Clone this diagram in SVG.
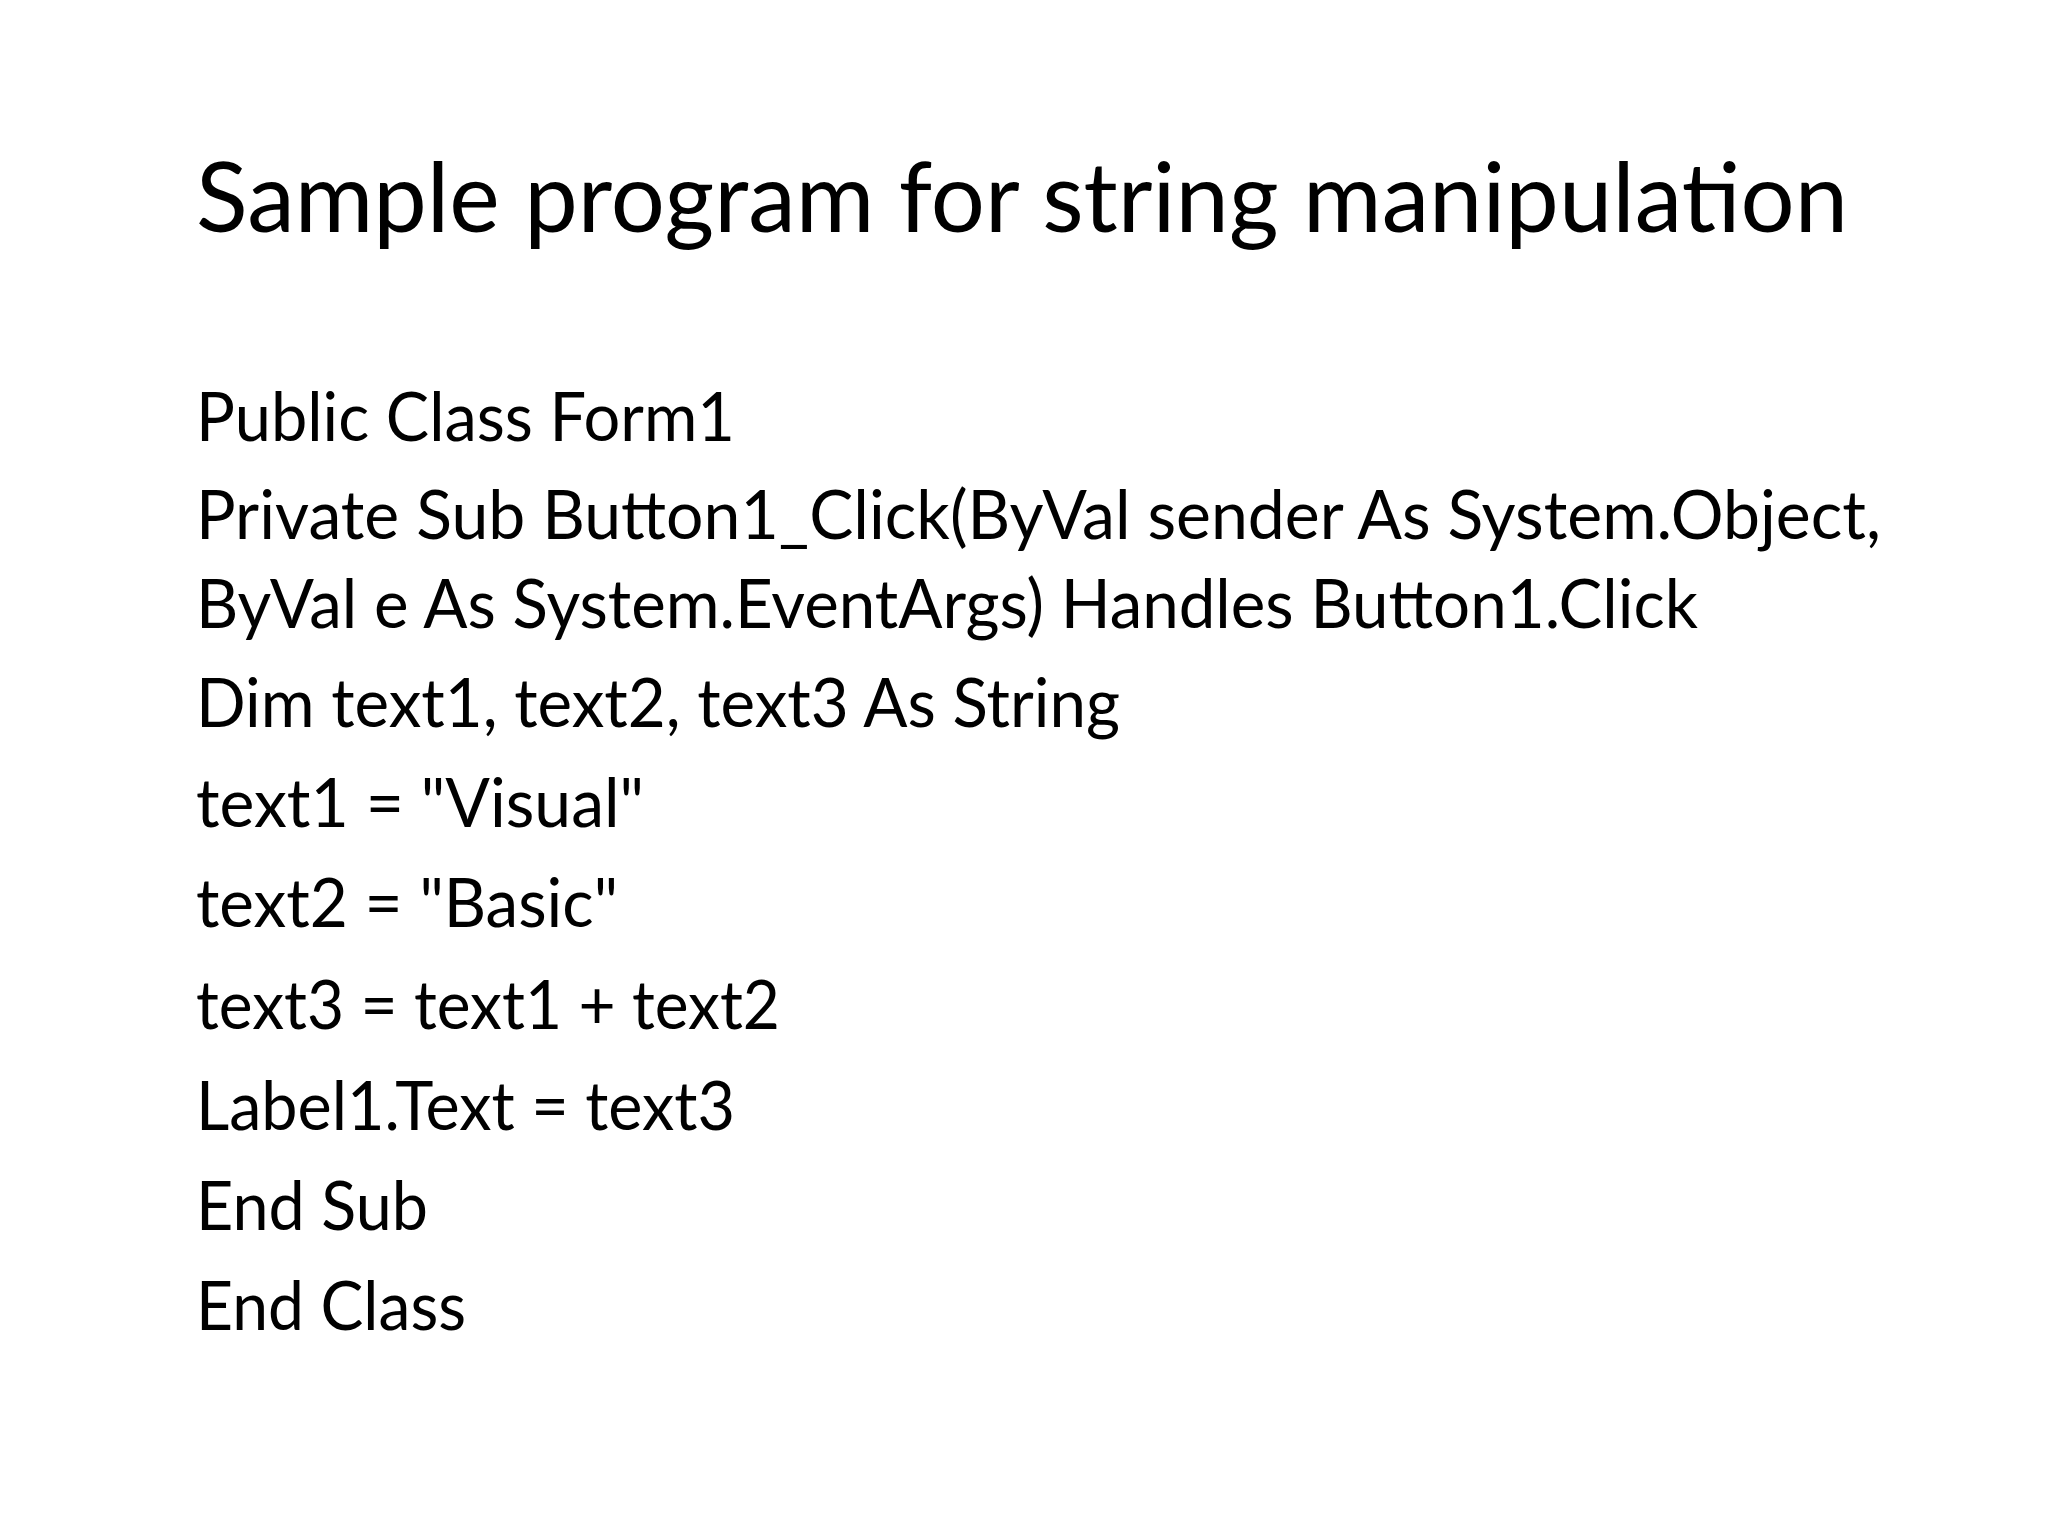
<svg xmlns="http://www.w3.org/2000/svg" width="2048" height="1536" viewBox="0 0 2048 1536">
<style>
.t{font-family:Lato,"Open Sans","Liberation Sans",sans-serif;fill:#000}
.h{font-size:96px}
.b{font-size:67px}
</style>
<rect width="2048" height="1536" fill="#fff"/>
<g id="title"><text class="t h" x="196" y="232" textLength="1652" lengthAdjust="spacingAndGlyphs">Sample program for string manipulation</text></g>
<g id="body">
<text class="t b" x="196" y="441" textLength="539" lengthAdjust="spacingAndGlyphs">Public Class Form1</text>
<text class="t b" x="196" y="539" textLength="1685" lengthAdjust="spacingAndGlyphs">Private Sub Button1_Click(ByVal sender As System.Object,</text>
<text class="t b" x="196" y="628" textLength="1502" lengthAdjust="spacingAndGlyphs">ByVal e As System.EventArgs) Handles Button1.Click</text>
<text class="t b" x="196" y="727" textLength="924" lengthAdjust="spacingAndGlyphs">Dim text1, text2, text3 As String</text>
<text class="t b" x="196" y="827" textLength="448" lengthAdjust="spacingAndGlyphs">text1 = "Visual"</text>
<text class="t b" x="196" y="927" textLength="422" lengthAdjust="spacingAndGlyphs">text2 = "Basic"</text>
<text class="t b" x="196" y="1029" textLength="584" lengthAdjust="spacingAndGlyphs">text3 = text1 + text2</text>
<text class="t b" x="196" y="1130" textLength="539" lengthAdjust="spacingAndGlyphs">Label1.Text = text3</text>
<text class="t b" x="196" y="1230" textLength="232" lengthAdjust="spacingAndGlyphs">End Sub</text>
<text class="t b" x="196" y="1330" textLength="270" lengthAdjust="spacingAndGlyphs">End Class</text>
</g>
</svg>
